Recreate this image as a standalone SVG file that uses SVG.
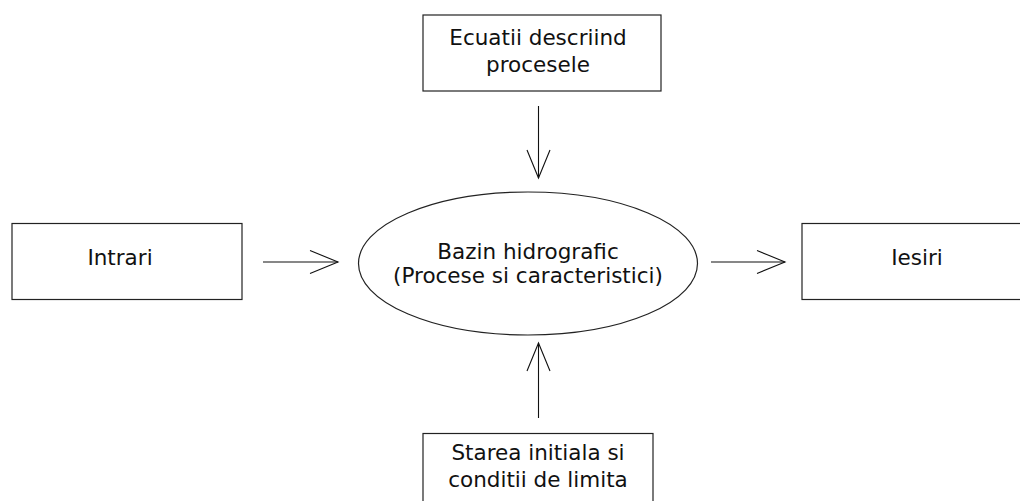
<svg xmlns="http://www.w3.org/2000/svg" width="1020" height="501" viewBox="0 0 1020 501">
<style>
.box{fill:#fff;stroke:#222;stroke-width:1.2}
.t{font-family:"DejaVu Sans",Verdana,sans-serif;font-size:21.5px;fill:#111;text-anchor:middle}
.c{fill:none;stroke:#111;stroke-width:1.1}
</style>
<rect width="1020" height="501" fill="#fff"/>
<g id="ecuatii">
<rect class="box" x="423" y="15" width="238" height="76"/>
<text class="t" x="538" y="45">Ecuatii descriind</text>
<text class="t" x="538" y="72">procesele</text>
</g>
<g id="intrari">
<rect class="box" x="12" y="223.5" width="230" height="76"/>
<text class="t" x="120" y="265">Intrari</text>
</g>
<g id="bazin">
<ellipse class="box" cx="528" cy="263.5" rx="169.5" ry="71.5"/>
<text class="t" x="528" y="259">Bazin hidrografic</text>
<text class="t" x="528" y="283">(Procese si caracteristici)</text>
</g>
<g id="iesiri">
<rect class="box" x="802" y="223.5" width="232" height="76"/>
<text class="t" x="917" y="265">Iesiri</text>
</g>
<g id="stare">
<rect class="box" x="423" y="433.5" width="230" height="80"/>
<text class="t" x="538" y="460">Starea initiala si</text>
<text class="t" x="538" y="487">conditii de limita</text>
</g>
<g id="connectors">
<line class="c" x1="538.5" y1="106" x2="538.5" y2="178"/>
<polyline class="c" points="527,150 538.5,178 550,150"/>
<line class="c" x1="263" y1="262" x2="338" y2="262"/>
<polyline class="c" points="310,250.5 338,262 310,273.5"/>
<line class="c" x1="711" y1="262" x2="785" y2="262"/>
<polyline class="c" points="757,250.5 785,262 757,273.5"/>
<line class="c" x1="538.5" y1="418" x2="538.5" y2="343"/>
<polyline class="c" points="527,371 538.5,343 550,371"/>
</g>
</svg>
